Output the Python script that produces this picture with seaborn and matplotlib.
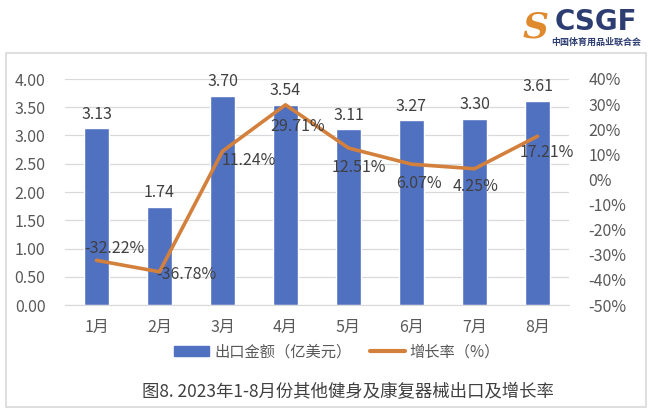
import matplotlib
matplotlib.use("Agg")
import matplotlib.pyplot as plt
import matplotlib.patches as mpatches
from matplotlib.lines import Line2D
import seaborn as sns
import pandas as pd
import numpy as np

months = ["1月", "2月", "3月", "4月", "5月", "6月", "7月", "8月"]
export_value = [3.13, 1.74, 3.70, 3.54, 3.11, 3.27, 3.30, 3.61]
growth_rate = [-32.22, -36.78, 11.24, 29.71, 12.51, 6.07, 4.25, 17.21]

left_ticks = [0.0, 0.5, 1.0, 1.5, 2.0, 2.5, 3.0, 3.5, 4.0]
right_ticks = [-50, -40, -30, -20, -10, 0, 10, 20, 30, 40]

legend_bar = "出口金额（亿美元）"
legend_line = "增长率（%）"
title = "图8. 2023年1-8月份其他健身及康复器械出口及增长率"

BAR_C = "#5070C0"
LINE_C = "#D3803D"
TXT_C = "#595959"
GRID_C = "#D9D9D9"

sns.set_style("white")
plt.rcParams["font.family"] = ["Noto Sans CJK SC", "DejaVu Sans"]
plt.rcParams["font.weight"] = "light"

df = pd.DataFrame({"pos": np.arange(len(months)), "month": months,
                   "value": export_value, "rate": growth_rate})

fig = plt.figure(figsize=(6.55, 4.15), dpi=100)
ax = fig.add_axes([65 / 655, 1 - 305 / 415, (569 - 65) / 655, (305 - 79) / 415])

sns.barplot(data=df, x="pos", y="value", color=BAR_C, width=0.4,
            saturation=1, ax=ax, zorder=2)
ax.set_xlim(-0.5, len(months) - 0.5)
ax.set_ylim(0, 4)
ax.set_yticks(left_ticks)
ax.set_yticklabels([f"{v:.2f}" for v in left_ticks])
ax.set_xticks(df["pos"])
ax.set_xticklabels(months)
ax.set_xlabel("")
ax.set_ylabel("")
ax.grid(axis="y", color=GRID_C, lw=0.9, zorder=0)
ax.set_axisbelow(True)
for s in ["top", "left", "right"]:
    ax.spines[s].set_visible(False)
ax.spines["bottom"].set_color(GRID_C)
ax.tick_params(axis="both", length=0, colors=TXT_C, labelsize=11.5)
ax.tick_params(axis="x", pad=10)
ax.tick_params(axis="y", pad=14)

for x, v in zip(df["pos"], export_value):
    ax.annotate(f"{v:.2f}", (x, v), xytext=(0, 4), textcoords="offset points",
                ha="center", va="bottom", fontsize=11.5, color="#404040")

ax2 = ax.twinx()
sns.lineplot(data=df, x="pos", y="rate", color=LINE_C, lw=2.6, ax=ax2,
             legend=False, zorder=3)
ax2.set_ylim(-50, 40)
ax2.set_yticks(right_ticks)
ax2.set_yticklabels([f"{v}%" for v in right_ticks])
ax2.set_ylabel("")
for s in ax2.spines.values():
    s.set_visible(False)
ax2.tick_params(axis="y", length=0, colors=TXT_C, labelsize=11.5, pad=14)

# label offsets in pixels (right, up)
offs = [(18, 12), (27, -3), (26, -9), (12, -22), (10, -19), (7, -19), (1, -18), (9, -16)]
for x, r, (dx, dy) in zip(df["pos"], growth_rate, offs):
    ax2.annotate(f"{r:.2f}%", (x, r), xytext=(dx, dy), textcoords="offset pixels",
                 ha="center", va="center", fontsize=11.5, color="#404040", zorder=4)

handles = [mpatches.Patch(color=BAR_C, label=legend_bar),
           Line2D([0], [0], color=LINE_C, lw=3, label=legend_line)]
fig.legend(handles=handles, loc="center", bbox_to_anchor=(337 / 655, 1 - 352 / 415),
           ncol=2, frameon=False, fontsize=11, handlelength=2.3, handleheight=0.6,
           columnspacing=1.2, handletextpad=0.3, labelcolor=TXT_C)

fig.text(348 / 655, 1 - 392 / 415, title, ha="center", va="center",
         fontsize=12.5, color="#404040")

# outer frame
fig.patches.append(mpatches.Rectangle((6 / 655, 1 - 407 / 415), (646 - 6) / 655,
                                      (407 - 53) / 415, transform=fig.transFigure,
                                      fill=False, ec=GRID_C, lw=1.2))

# logo
fig.text(536 / 655, 1 - 28 / 415, "S", ha="center", va="center", fontsize=26,
         fontweight="bold", color="#E08A2E", family="DejaVu Serif", style="italic")
fig.text(596 / 655, 1 - 22 / 415, "CSGF", ha="center", va="center", fontsize=20,
         fontweight="bold", color="#2D3D72", family="DejaVu Sans")
fig.text(596 / 655, 1 - 42 / 415, "中国体育用品业联合会", ha="center", va="center",
         fontsize=6.5, fontweight="bold", color="#2D3D72", family="Noto Sans CJK SC")

fig.savefig("out.png", dpi=100)
